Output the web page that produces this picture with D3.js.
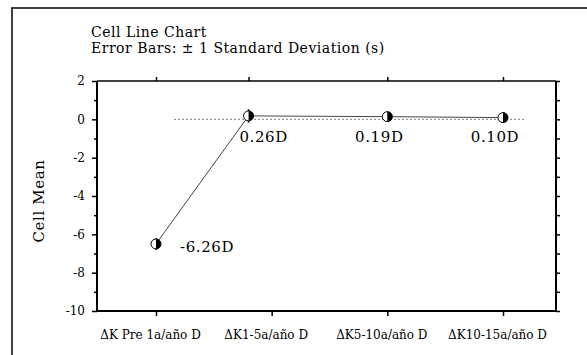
<!DOCTYPE html>
<html><head><meta charset="utf-8">
<script src="https://cdn.jsdelivr.net/npm/d3@7"></script>
<style>
body{margin:0;background:#fff;}
svg{display:block;}
text{font-family:"DejaVu Serif",serif;fill:#000;}
</style></head>
<body><svg id="c" width="587" height="355"></svg>
<script>
// ---- data ----
const categories = ["ΔK Pre 1a/año D","ΔK1-5a/año D","ΔK5-10a/año D","ΔK10-15a/año D"];
const categoryPos = [1,2,3,4];
const pointPos = [1,1.8,3,4];          // plotted x positions of the cell means
const means = [-6.5,0.18,0.14,0.09];
const sds = [0.3,0.35,0.25,0.25];
const pointLabels = ["-6.26D","0.26D","0.19D","0.10D"];
const yTicks = [2,0,-2,-4,-6,-8,-10];
const yMinor = [1,-1,-3,-5,-7,-9];
const titleLines = ["Cell Line Chart","Error Bars: ± 1 Standard Deviation (s)"];
const yTitle = "Cell Mean";

const svg = d3.select("#c");
const L=97,R=556,T=81,B=311;
const x = d3.scaleLinear().domain([1,4]).range([156,503]);
const y = d3.scaleLinear().domain([-10,2]).range([B,T]);

// outer frame (top + left)
svg.append("line").attr("x1",11).attr("x2",587).attr("y1",8).attr("y2",8).attr("stroke","#000").attr("stroke-width",1.5);
svg.append("line").attr("x1",12).attr("x2",12).attr("y1",8).attr("y2",355).attr("stroke","#000").attr("stroke-width",1.5);

// titles
svg.selectAll("text.title").data(titleLines).join("text").attr("class","title")
  .attr("x",91).attr("y",(d,i)=>37+i*16).attr("font-size",14).attr("letter-spacing",0.5).text(d=>d);

// plot frame
svg.append("line").attr("x1",L).attr("x2",R).attr("y1",T).attr("y2",T).attr("stroke","#000").attr("stroke-width",1.5);
svg.append("line").attr("x1",L).attr("x2",R+1).attr("y1",B).attr("y2",B).attr("stroke","#000").attr("stroke-width",2);
svg.append("line").attr("x1",L).attr("x2",L).attr("y1",T).attr("y2",B).attr("stroke","#000").attr("stroke-width",2);
svg.append("line").attr("x1",R).attr("x2",R).attr("y1",T).attr("y2",B).attr("stroke","#000").attr("stroke-width",2);

// left axis ticks + labels
const leftAxis = d3.axisLeft(y).tickValues(yTicks).tickSize(5).tickFormat(d=>String(d));
const gl = svg.append("g").attr("transform",`translate(${L},0)`).call(leftAxis);
gl.select(".domain").remove();
gl.selectAll("text").attr("font-family","DejaVu Serif").attr("font-size",12).attr("dx",-4);
gl.selectAll("line").attr("stroke-width",1.5);
const glm = svg.append("g").attr("transform",`translate(${L},0)`).call(d3.axisLeft(y).tickValues(yMinor).tickSize(3).tickFormat(""));
glm.select(".domain").remove();
glm.selectAll("line").attr("stroke-width",1.5);

// right axis ticks
const gr = svg.append("g").attr("transform",`translate(${R},0)`).call(d3.axisRight(y).tickValues(d3.range(-10,3,1)).tickSize(4).tickFormat(""));
gr.select(".domain").remove();
gr.selectAll("line").attr("stroke-width",1.5);

// top ticks at plotted positions
const gt = svg.append("g").attr("transform",`translate(0,${T})`).call(d3.axisTop(x).tickValues(pointPos).tickSize(4).tickFormat(""));
gt.select(".domain").remove();
gt.selectAll("line").attr("stroke-width",1.5);

// bottom ticks + category labels
const gb = svg.append("g").attr("transform",`translate(0,${B})`).call(d3.axisBottom(x).tickValues(categoryPos).tickSize(5).tickFormat((d,i)=>categories[i]));
gb.select(".domain").remove();
gb.selectAll("line").attr("stroke-width",1.5);
gb.selectAll("text").attr("font-family","Liberation Serif").attr("font-size",12).attr("y",19).attr("dx",-6);

// y title
svg.append("text").attr("transform","translate(44,201) rotate(-90)").attr("text-anchor","middle")
  .attr("font-size",15).attr("letter-spacing",0.6).text(yTitle);

// zero reference (dotted)
svg.append("line").attr("x1",x(1.16)).attr("x2",x(4.19)).attr("y1",y(0)).attr("y2",y(0))
  .attr("stroke","#000").attr("stroke-width",1).attr("stroke-dasharray","1,3");

// connecting line
const pts = means.map((m,i)=>[x(pointPos[i]),y(m)]);
svg.append("path").attr("d",d3.line()(pts)).attr("fill","none").attr("stroke","#444").attr("stroke-width",1);

// error bars
svg.selectAll("line.err").data(means).join("line").attr("class","err")
  .attr("x1",(d,i)=>x(pointPos[i])).attr("x2",(d,i)=>x(pointPos[i]))
  .attr("y1",(d,i)=>y(d+sds[i])).attr("y2",(d,i)=>y(d-sds[i]))
  .attr("stroke","#000").attr("stroke-width",1.5);

// markers (half-filled circles)
const r=5;
const mg = svg.selectAll("g.mk").data(means).join("g").attr("class","mk")
  .attr("transform",(d,i)=>`translate(${x(pointPos[i])},${y(d)})`);
mg.append("circle").attr("r",r).attr("fill","#fff").attr("stroke","#000").attr("stroke-width",1);
mg.append("path").attr("d",`M0,${-r}A${r},${r} 0 0 1 0,${r}Z`).attr("fill","#000");

// value labels
svg.selectAll("text.vl").data(means).join("text").attr("class","vl")
  .attr("x",(d,i)=> i===0 ? x(pointPos[i])+24 : x(categoryPos[i])-8)
  .attr("y",(d,i)=> i===0 ? y(d)+8 : y(0)+23)
  .attr("text-anchor",(d,i)=> i===0 ? "start" : "middle")
  .attr("font-size",15).attr("letter-spacing",0.6)
  .text((d,i)=>pointLabels[i]);
</script></body></html>
